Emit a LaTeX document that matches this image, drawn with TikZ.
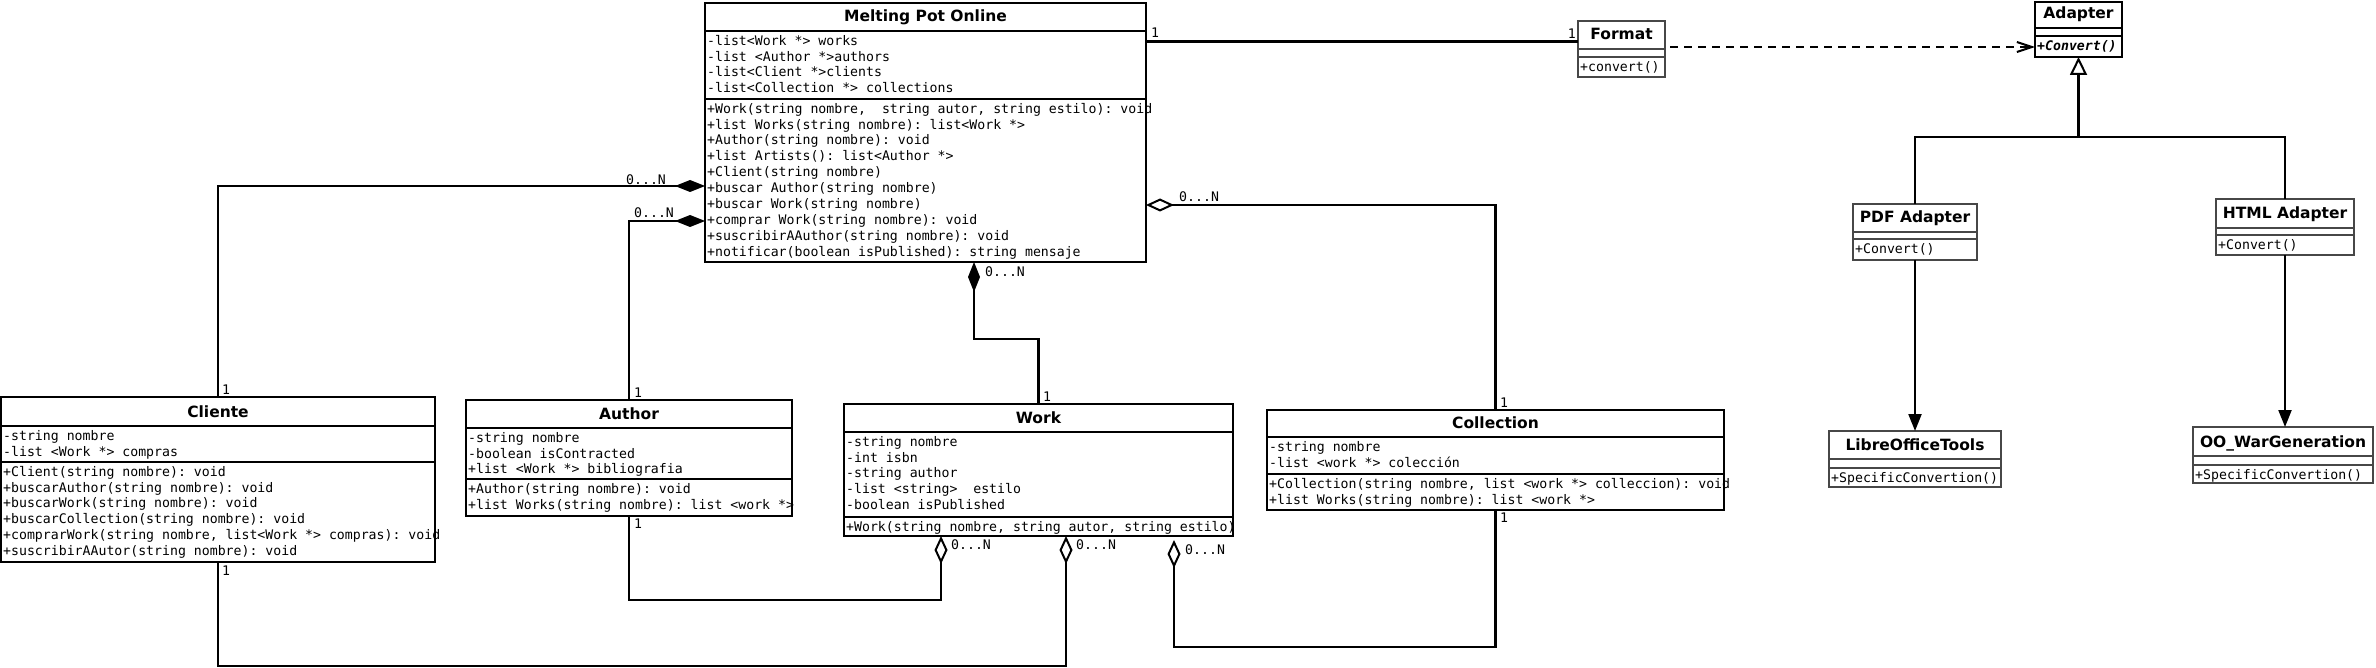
\documentclass[tikz,border=0pt]{standalone}
\usepackage{fontspec}
\setmainfont{DejaVu Sans}
\setmonofont{DejaVu Sans Mono}
\usetikzlibrary{arrows.meta}
% #1 name, #2 style, #3 x1, #4 y1, #5 x2, #6 y2, #7 title sep, #8 attr sep, #9 title
\newcommand{\umlbox}[9]{%
  \node[#2, minimum width={(#5-#3)*1pt}, minimum height={(#6-#4)*1pt}] (#1) at (#3,#4) {};
  \draw[#2] (#3,#7) -- (#5,#7);
  \draw[#2] (#3,#8) -- (#5,#8);
  \node[ttl] (#1-t) at ({(#3+#5)/2},{#7-9}) {#9};
}
\newcommand{\umltext}[4]{\node[txt] (#1) at (#2,#3) {\strut#4};}
\begin{document}
\begin{tikzpicture}[x=1pt,y=-1pt,
  cbox/.style={draw=black, line width=2.2pt, anchor=north west, inner sep=0pt, outer sep=0pt},
  tbox/.style={draw=black!72, line width=1.4pt, anchor=north west, inner sep=0pt, outer sep=0pt},
  ttl/.style={font=\fontsize{15.5}{18}\selectfont\bfseries, anchor=base, inner sep=0pt},
  txt/.style={font=\fontsize{13.2}{15.9}\selectfont\ttfamily, align=left, anchor=north west, inner sep=0pt},
  lbl/.style={font=\fontsize{13.2}{15.9}\selectfont\ttfamily, inner sep=0pt},
  conn/.style={line width=2.2pt, draw=black},
  comp/.style={conn, -{Diamond[length=30pt,width=12pt]}},
  aggr/.style={conn, -{Diamond[open,length=28pt,width=13pt,line width=2pt]}},
  gen/.style={conn, -{Triangle[open,length=18pt,width=17pt,line width=2pt]}},
  assoc/.style={conn, -{Triangle[length=17pt,width=13pt]}},
  dep/.style={conn, dash pattern=on 8pt off 6pt, -{Straight Barb[length=15pt,width=10pt,line width=2pt]}}
]
\useasboundingbox (0,0) rectangle (2376,668);

% ---- classes ----
\umlbox{mpo}{cbox}{705}{3}{1146}{262}{31}{99}{Melting Pot Online}
\umltext{mpo-a}{707}{33.8}{-list<Work *> works\\-list <Author *>authors\\-list<Client *>clients\\-list<Collection *> collections}
\umltext{mpo-m}{707}{101.8}{+Work(string nombre,~ string autor, string estilo): void\\+list Works(string nombre): list<Work *>\\+Author(string nombre): void\\+list Artists(): list<Author *>\\+Client(string nombre)\\+buscar Author(string nombre)\\+buscar Work(string nombre)\\+comprar Work(string nombre): void\\+suscribirAAuthor(string nombre): void\\+notificar(boolean isPublished): string mensaje}

\umlbox{cli}{cbox}{1}{397}{435}{562}{426}{462}{Cliente}
\umltext{cli-a}{3}{428.8}{-string nombre\\-list <Work *> compras}
\umltext{cli-m}{3}{464.8}{+Client(string nombre): void\\+buscarAuthor(string nombre): void\\+buscarWork(string nombre): void\\+buscarCollection(string nombre): void\\+comprarWork(string nombre, list<Work *> compras): void\\+suscribirAAutor(string nombre): void}

\umlbox{aut}{cbox}{466}{400}{792}{516}{428}{479}{Author}
\umltext{aut-a}{468}{430.8}{-string nombre\\-boolean isContracted\\+list <Work *> bibliografia}
\umltext{aut-m}{468}{481.8}{+Author(string nombre): void\\+list Works(string nombre): list <work *>}

\umlbox{wrk}{cbox}{844}{404}{1233}{536}{432}{517}{Work}
\umltext{wrk-a}{846}{434.8}{-string nombre\\-int isbn\\-string author\\-list <string>~ estilo\\-boolean isPublished}
\umltext{wrk-m}{846}{519.8}{+Work(string nombre, string autor, string estilo)}

\umlbox{col}{cbox}{1267}{410}{1724}{510}{437}{474}{Collection}
\umltext{col-a}{1269}{439.8}{-string nombre\\-list <work *> colección}
\umltext{col-m}{1269}{476.8}{+Collection(string nombre, list <work *> colleccion): void\\+list Works(string nombre): list <work *>}

\umlbox{fmt}{tbox}{1578}{21}{1665}{77}{49}{57}{Format}
\umltext{fmt-m}{1580}{59.8}{+convert()}

\umlbox{adp}{cbox}{2035}{2}{2122}{57}{28}{36}{Adapter}
\umltext{adp-m}{2037}{38.8}{{\bfseries\itshape +Convert()}}

\umlbox{pdf}{tbox}{1853}{204}{1977}{260}{232}{239}{PDF Adapter}
\umltext{pdf-m}{1855}{241.8}{+Convert()}

\umlbox{html}{tbox}{2216}{199}{2354}{255}{228}{235}{HTML Adapter}
\umltext{html-m}{2218}{237.8}{+Convert()}

\umlbox{lib}{tbox}{1829}{431}{2001}{487}{459}{468}{LibreOfficeTools}
\umltext{lib-m}{1831}{470.8}{+SpecificConvertion()}

\umlbox{oo}{tbox}{2193}{427}{2373}{483}{456}{465}{OO\_WarGeneration}
\umltext{oo-m}{2195}{467.8}{+SpecificConvertion()}

% ---- bend coordinates ----
\coordinate (k1) at (0,186);
\coordinate (k2) at (0,221);
\coordinate (k3) at (974,339);
\coordinate (k4) at (0,205);
\coordinate (k5) at (0,41.5);
\coordinate (k6) at (1670,47);
\coordinate (k7) at (2078.5,137);
\coordinate (k8) at (941,600);
\coordinate (k9) at (1066,666);
\coordinate (k10) at (1174,647);
\coordinate (k11) at (1174,540);

% ---- connectors ----
\draw[comp] (cli.north) |- (mpo.west |- k1);
\draw[comp] (aut.north) |- (mpo.west |- k2);
\draw[comp] (wrk.north) |- (k3) -- (mpo.south -| k3);
\draw[aggr] (col.north) |- (mpo.east |- k4);
\draw[conn] (mpo.east |- k5) -- (fmt.west |- k5);
\draw[dep] (k6) -- (adp.west |- k6);
\draw[conn] (pdf.north) |- (k7);
\draw[conn] (html.north) |- (k7);
\draw[gen] (k7) -- (adp.south);
\draw[assoc] (pdf.south) -- (lib.north);
\draw[assoc] (html.south) -- (html.south |- oo.north);
\draw[aggr] (aut.south) |- (k8) -- (wrk.south -| k8);
\draw[aggr] (cli.south) |- (k9) -- (wrk.south -| k9);
\draw[aggr] (col.south) |- (k10) -- (k11);

% ---- multiplicities ----
\node[lbl, anchor=west] (m1) at (626,180) {0...N};
\node[lbl, anchor=west] (m2) at (634,213) {0...N};
\node[lbl, anchor=west] (m3) at (985,272) {0...N};
\node[lbl, anchor=west] (m4) at (1179,197) {0...N};
\node[lbl, anchor=west] (m5) at (951,545) {0...N};
\node[lbl, anchor=west] (m6) at (1076,545) {0...N};
\node[lbl, anchor=west] (m7) at (1185,550) {0...N};
\node[lbl, anchor=south west] (o1) at (222,395) {1};
\node[lbl, anchor=south west] (o2) at (634,398) {1};
\node[lbl, anchor=south west] (o3) at (1043,402) {1};
\node[lbl, anchor=south west] (o4) at (1500,408) {1};
\node[lbl, anchor=north west] (o5) at (222,566) {1};
\node[lbl, anchor=north west] (o6) at (634,519) {1};
\node[lbl, anchor=north west] (o7) at (1500,513) {1};
\node[lbl, anchor=south west] (o8) at (1151,38) {1};
\node[lbl, anchor=south east] (o9) at (1576,39) {1};
\end{tikzpicture}
\end{document}
